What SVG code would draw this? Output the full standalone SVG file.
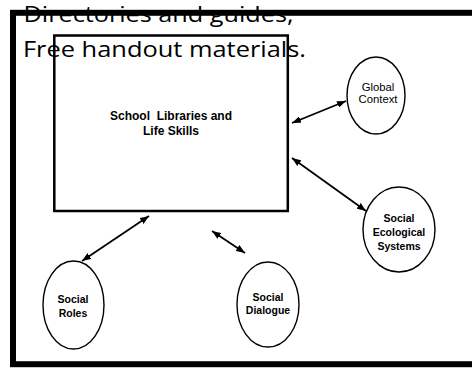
<svg xmlns="http://www.w3.org/2000/svg" width="472" height="369" viewBox="0 0 472 369">
  <style>
    .title { font-family: "Open Sans", "Noto Sans", sans-serif; font-size: 21px; fill: #000; }
    .box { fill: none; stroke: #000; stroke-width: 2.5; }
    .ell { fill: #fff; stroke: #000; stroke-width: 1.4; }
    .lbl { font-family: "Liberation Sans", Arial, sans-serif; font-weight: bold; font-size: 10.5px; fill: #000; text-anchor: middle; }
    .main { font-family: "Liberation Sans", Arial, sans-serif; font-weight: bold; font-size: 12px; fill: #000; text-anchor: middle; }
    .conn { stroke: #000; stroke-width: 1.8; fill: none; marker-start: url(#ah); marker-end: url(#ah); }
  </style>
  <defs>
    <marker id="ah" markerUnits="userSpaceOnUse" markerWidth="9" markerHeight="7" refX="9" refY="3.5" orient="auto-start-reverse" viewBox="0 0 9 7">
      <path d="M0,0 L9,3.5 L0,7 z" fill="#000"/>
    </marker>
  </defs>
  <rect x="0" y="0" width="472" height="369" fill="#fff"/>
  <g id="title">
    <text class="title" x="23.5" y="21.5" textLength="270" lengthAdjust="spacingAndGlyphs">Directories and guides,</text>
    <text class="title" x="23" y="57.3" textLength="283" lengthAdjust="spacingAndGlyphs">Free handout materials.</text>
  </g>
  <rect id="frame" x="13" y="12.8" width="470" height="351.4" fill="none" stroke="#000" stroke-width="6"/>
  <g id="node-main">
    <rect class="box" x="54.3" y="35.5" width="233.5" height="175.5"/>
    <text class="main" x="171" y="120" xml:space="preserve">School  Libraries and</text>
    <text class="main" x="171" y="135">Life Skills</text>
  </g>
  <g id="node-global">
    <ellipse class="ell" cx="376" cy="95.5" rx="29" ry="38.5"/>
    <text class="lbl" x="378" y="91" style="font-weight:normal;font-size:11.3px">Global</text>
    <text class="lbl" x="378" y="103.3" style="font-weight:normal;font-size:11.3px">Context</text>
  </g>
  <g id="node-ecological">
    <ellipse class="ell" cx="399" cy="229.5" rx="36" ry="42.5"/>
    <text class="lbl" x="399" y="222">Social</text>
    <text class="lbl" x="399" y="236">Ecological</text>
    <text class="lbl" x="399" y="249.5">Systems</text>
  </g>
  <g id="node-roles">
    <ellipse class="ell" cx="73.5" cy="305" rx="30.5" ry="44"/>
    <text class="lbl" x="73" y="303">Social</text>
    <text class="lbl" x="73" y="317">Roles</text>
  </g>
  <g id="node-dialogue">
    <ellipse class="ell" cx="268" cy="304.5" rx="31" ry="42.5"/>
    <text class="lbl" x="268" y="301">Social</text>
    <text class="lbl" x="268" y="314">Dialogue</text>
  </g>
  <g id="connectors">
    <line class="conn" x1="292" y1="123" x2="346" y2="101"/>
    <line class="conn" x1="292" y1="158" x2="366" y2="211"/>
    <line class="conn" x1="149" y1="216" x2="82" y2="261"/>
    <line class="conn" x1="212" y1="231" x2="245" y2="253"/>
  </g>
</svg>
